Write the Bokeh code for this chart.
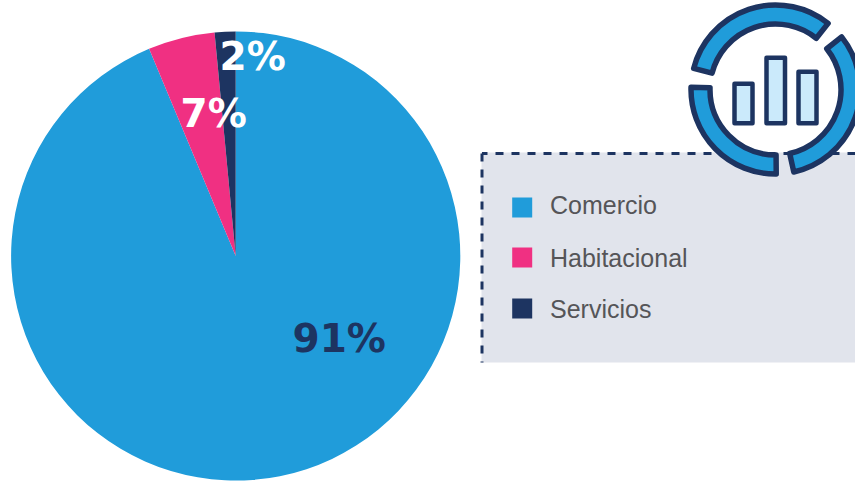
from math import pi
import numpy as np
from bokeh.plotting import figure
from bokeh.core.properties import value
from bokeh.embed import file_html
from bokeh.resources import INLINE

# --- data ---
categories = ["Comercio", "Habitacional", "Servicios"]
slice_shares = [93.7, 4.8, 1.5]      # drawn slice sizes as seen in the picture
slice_labels = ["91%", "7%", "2%"]   # printed labels
colors = ["#209CDA", "#F03082", "#1D3461"]
icon_bar_heights = [44, 70, 56]

W, H = 855, 482
NAVY = "#1D3461"


def Y(py):
    return H - py


p = figure(width=W, height=H, x_range=(0, W), y_range=(0, H),
           output_backend="svg", toolbar_location=None, min_border=0,
           outline_line_color=None, margin=(0, 0, 0, 0))
p.axis.visible = False
p.grid.visible = False
p.background_fill_color = "white"
p.border_fill_color = "white"

# pie, clockwise from twelve o'clock
cx, cy, r = 235.2, 255.5, 224.6
fr = np.cumsum([0] + slice_shares) / sum(slice_shares)
ends = pi / 2 - fr[:-1] * 2 * pi
starts = pi / 2 - fr[1:] * 2 * pi
p.wedge(x=[cx] * 3, y=[Y(cy)] * 3, radius=r, start_angle=list(starts), end_angle=list(ends),
        fill_color=colors, line_color=None)

# percentage labels
p.text(x=[292, 180, 219], y=[Y(354), Y(129), Y(72)], text=slice_labels,
       text_color=[NAVY, "white", "white"], text_font=value("DejaVu Sans"),
       text_font_style="bold", text_font_size="39px", text_baseline="alphabetic", y_offset=-16)

# legend panel
p.quad(left=[481], right=[W + 5], bottom=[Y(362)], top=[Y(152)], fill_color="#E1E4EC", line_color=None)
p.line([W, 481.5], [Y(153), Y(153)], line_color=NAVY, line_width=3, line_dash="8 8")
p.line([481.5, 481.5], [Y(153), Y(362)], line_color=NAVY, line_width=3, line_dash="8 8")

leg_y = [207, 257, 308]
p.rect(x=[521.7] * 3, y=[Y(v) for v in leg_y], width=20, height=20, fill_color=colors, line_color=None)
p.text(x=[549.5] * 3, y=[Y(214), Y(267), Y(318)], text=categories, text_color="#555558",
       text_font=value("Liberation Sans"), text_font_size="25px", text_baseline="alphabetic", y_offset=-10)

# icon ring
ix, iy = 775, 89
seg_start = [51.5, 178.5, -77.5]
seg_end = [165.5, 270.5, 38.5]
p.annular_wedge(x=[ix] * 3, y=[Y(iy)] * 3, inner_radius=65.5, outer_radius=84.5,
                start_angle=[np.deg2rad(a) for a in seg_start],
                end_angle=[np.deg2rad(a) for a in seg_end],
                fill_color="#209CDA", line_color=NAVY, line_width=5.5, line_join="round")

# icon bars
bar_left = [734, 766, 798]
bar_right = [752, 784.5, 816]
p.quad(left=bar_left, right=bar_right, bottom=[Y(122.7)] * 3,
       top=[Y(122.7) + h - 4.5 for h in icon_bar_heights],
       fill_color="#CBEAFB", line_color=NAVY, line_width=4.5, line_join="round")

open("out.html", "w").write(file_html(p, INLINE))
